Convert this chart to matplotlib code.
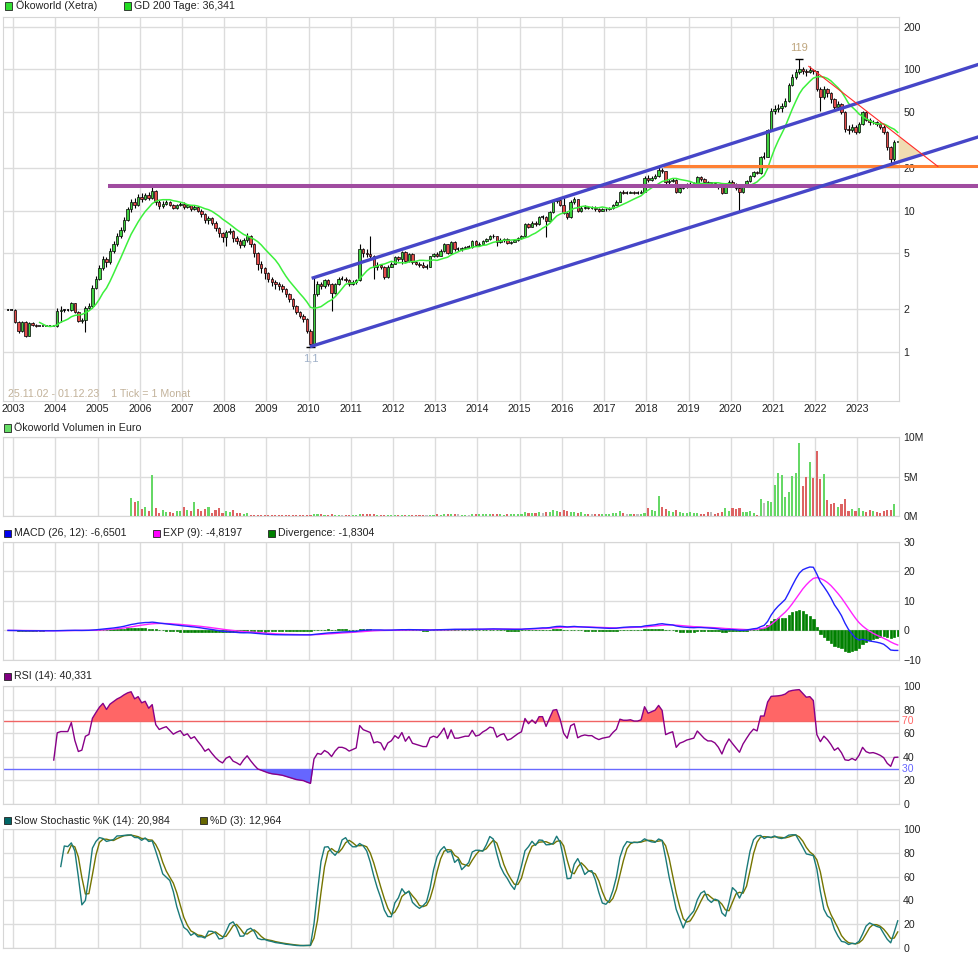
import numpy as np
import pandas as pd
import matplotlib.pyplot as plt
from matplotlib.patches import Rectangle, Polygon
from matplotlib.ticker import NullLocator

plt.rcParams['font.family'] = ['Liberation Sans', 'DejaVu Sans']

# Monatskerzen Ökoworld (Xetra), Nov 2002 .. Dez 2023
first_month = "2002-11"
first_open = 1.98
closes = [
    1.98, 1.98,                                                              # 2002
    1.63, 1.40, 1.63, 1.30, 1.60, 1.55, 1.52, 1.52, 1.52, 1.52, 1.52, 1.52,  # 2003
    1.95, 1.98, 1.98, 1.98, 2.20, 1.91, 1.65, 1.68, 2.04, 2.10, 2.85, 3.30,  # 2004
    3.90, 4.50, 4.30, 5.20, 5.80, 6.60, 7.30, 8.60, 10.2, 11.5, 11.0, 12.5,  # 2005
    12.0, 12.8, 12.2, 13.8, 11.5, 10.8, 11.2, 11.5, 11.0, 10.5, 10.9, 11.2,  # 2006
    10.6, 10.9, 10.3, 10.6, 10.0, 9.40, 8.60, 8.90, 8.20, 7.50, 6.90, 6.50,  # 2007
    7.00, 7.20, 6.40, 6.10, 5.70, 6.20, 6.60, 5.80, 5.00, 4.20, 3.90, 3.60,  # 2008
    3.30, 3.10, 3.00, 2.90, 2.78, 2.56, 2.36, 2.10, 1.91, 1.80, 1.70, 1.40,  # 2009
    1.14, 2.56, 3.00, 2.90, 3.20, 3.00, 2.60, 3.00, 3.30, 3.30, 3.20, 3.00,  # 2010
    3.10, 3.20, 5.30, 5.00, 4.90, 4.80, 4.00, 4.10, 4.00, 3.40, 4.00, 4.20,  # 2011
    4.70, 4.50, 5.10, 4.40, 4.90, 4.30, 4.20, 4.10, 4.00, 4.00, 4.75, 4.90,  # 2012
    4.80, 5.20, 5.75, 5.00, 6.00, 5.30, 5.30, 5.40, 5.50, 5.50, 6.10, 5.70,  # 2013
    5.80, 6.10, 6.30, 6.60, 6.55, 6.00, 6.20, 6.30, 5.90, 6.00, 6.20, 6.40,  # 2014
    6.55, 8.00, 7.70, 8.20, 8.00, 9.00, 9.00, 8.40, 9.70, 11.6, 11.8, 11.0,  # 2015
    9.60, 9.00, 11.5, 12.0, 10.0, 10.4, 10.6, 10.5, 10.5, 10.2, 10.0, 10.2,  # 2016
    10.3, 10.4, 11.0, 11.5, 13.5, 13.4, 13.4, 13.5, 13.4, 13.4, 13.6, 17.1,  # 2017
    16.5, 17.0, 17.5, 19.5, 19.0, 15.8, 16.2, 16.5, 13.6, 14.5, 14.8, 15.2,  # 2018
    15.4, 15.6, 17.2, 16.6, 16.0, 15.6, 15.6, 15.3, 14.6, 13.4, 14.8, 16.0,  # 2019
    15.2, 14.4, 13.5, 15.0, 16.2, 17.5, 18.6, 18.3, 24.0, 24.0, 37.0, 51.0,  # 2020
    52.0, 53.0, 55.0, 60.0, 78.0, 88.0, 95.0, 100., 98.0, 96.0, 99.0, 97.0,  # 2021
    72.0, 64.0, 72.0, 68.0, 62.0, 54.0, 57.0, 50.0, 38.0, 37.0, 39.0, 36.0,  # 2022
    41.0, 50.0, 44.0, 42.0, 42.5, 41.0, 39.0, 36.0, 28.0, 23.0, 30.7, 30.9,  # 2023
]
highs = [
    2.00, 2.00,                                                              # 2002
    2.00, 1.66, 1.66, 1.65, 1.62, 1.62, 1.56, 1.53, 1.53, 1.53, 1.53, 1.53,  # 2003
    2.05, 2.10, 2.02, 2.02, 2.25, 2.22, 1.95, 1.72, 2.10, 2.20, 2.95, 3.45,  # 2004
    4.10, 4.80, 4.70, 5.40, 6.10, 6.90, 7.60, 9.00, 10.6, 12.0, 12.2, 13.0,  # 2005
    13.2, 13.4, 13.5, 14.9, 14.0, 11.8, 11.6, 11.9, 11.7, 11.2, 11.2, 11.5,  # 2006
    11.4, 11.2, 11.0, 10.9, 10.8, 10.2, 9.60, 9.20, 9.00, 8.40, 7.70, 7.10,  # 2007
    7.30, 7.50, 7.30, 6.60, 6.30, 6.40, 6.90, 6.70, 5.90, 5.10, 4.40, 4.00,  # 2008
    3.70, 3.40, 3.20, 3.10, 3.00, 2.85, 2.60, 2.40, 2.15, 1.95, 1.85, 1.72,  # 2009
    1.45, 3.37, 3.15, 3.10, 3.30, 3.25, 3.05, 3.05, 3.40, 3.45, 3.40, 3.25,  # 2010
    3.20, 3.30, 5.80, 5.40, 5.30, 6.60, 4.85, 4.30, 4.20, 4.05, 4.10, 4.30,  # 2011
    4.80, 4.80, 5.20, 5.20, 5.00, 5.00, 4.40, 4.30, 4.30, 4.15, 4.80, 5.00,  # 2012
    5.10, 5.30, 5.90, 5.80, 6.10, 6.10, 5.50, 5.50, 5.60, 5.70, 6.20, 6.20,  # 2013
    6.00, 6.20, 6.40, 6.70, 6.80, 6.60, 6.35, 6.40, 6.35, 6.10, 6.30, 6.50,  # 2014
    6.70, 8.10, 8.20, 8.40, 8.40, 9.20, 9.30, 9.10, 9.90, 11.9, 12.3, 12.0,  # 2015
    12.7, 9.90, 11.8, 12.4, 12.1, 10.8, 10.9, 10.8, 10.8, 10.7, 10.4, 10.4,  # 2016
    10.5, 10.6, 11.2, 11.8, 13.8, 13.9, 13.8, 13.8, 13.7, 13.7, 13.9, 17.5,  # 2017
    17.8, 17.6, 18.0, 20.3, 20.0, 19.2, 16.8, 17.0, 16.7, 14.9, 15.2, 15.6,  # 2018
    15.8, 16.0, 17.6, 17.5, 16.9, 16.3, 16.0, 15.8, 15.5, 14.8, 15.1, 16.4,  # 2019
    16.4, 15.6, 14.6, 15.3, 16.5, 17.9, 19.0, 19.0, 24.5, 26.0, 38.0, 53.0,  # 2020
    56.0, 57.0, 58.0, 63.0, 80.0, 92.0, 100., 119., 104., 100., 105., 101.,  # 2021
    98.0, 75.0, 76.0, 74.0, 69.0, 63.0, 60.0, 58.0, 51.0, 40.0, 41.0, 40.0,  # 2022
    42.0, 51.0, 51.0, 45.0, 44.0, 43.0, 42.0, 40.0, 36.5, 28.5, 31.5, 31.2,  # 2023
]
lows = [
    1.96, 1.97,                                                              # 2002
    1.60, 1.36, 1.38, 1.28, 1.29, 1.52, 1.50, 1.51, 1.51, 1.51, 1.51, 1.51,  # 2003
    1.50, 1.63, 1.90, 1.95, 1.95, 1.88, 1.62, 1.60, 1.38, 2.00, 2.05, 2.80,  # 2004
    3.20, 3.80, 4.00, 4.20, 5.00, 5.60, 6.40, 7.10, 8.40, 9.80, 10.5, 10.8,  # 2005
    11.5, 11.8, 11.8, 12.0, 11.0, 10.2, 10.5, 11.0, 10.7, 10.2, 10.3, 10.7,  # 2006
    10.3, 10.4, 9.90, 10.1, 9.70, 9.00, 8.20, 8.00, 7.90, 7.20, 6.50, 6.00,  # 2007
    5.60, 6.80, 6.00, 5.80, 5.40, 5.50, 6.00, 5.50, 4.70, 3.80, 3.60, 3.30,  # 2008
    3.10, 2.90, 2.80, 2.75, 2.65, 2.45, 2.25, 2.00, 1.85, 1.72, 1.62, 1.35,  # 2009
    1.08, 1.12, 2.50, 2.80, 2.85, 2.90, 1.95, 2.55, 2.95, 3.20, 3.10, 2.90,  # 2010
    2.95, 3.00, 3.15, 4.70, 4.70, 4.60, 3.30, 3.80, 3.85, 3.30, 3.35, 3.95,  # 2011
    4.15, 4.40, 4.20, 4.30, 4.30, 4.20, 4.10, 3.95, 3.90, 3.85, 3.95, 4.70,  # 2012
    4.70, 4.75, 5.10, 4.90, 4.95, 5.20, 5.20, 5.20, 5.30, 5.40, 5.45, 5.60,  # 2013
    5.60, 5.75, 6.00, 6.20, 6.40, 5.60, 5.90, 6.00, 5.80, 5.80, 5.95, 6.10,  # 2014
    6.30, 6.50, 7.50, 7.60, 7.80, 7.90, 8.70, 6.50, 8.30, 9.60, 11.3, 10.7,  # 2015
    9.40, 8.70, 8.90, 11.2, 9.70, 9.80, 10.2, 10.3, 10.2, 10.0, 9.70, 9.90,  # 2016
    10.0, 10.1, 10.3, 10.9, 11.4, 13.1, 13.1, 13.2, 13.1, 13.1, 13.2, 13.5,  # 2017
    16.0, 16.2, 16.6, 17.2, 18.5, 15.5, 15.4, 15.9, 13.2, 13.3, 14.2, 14.5,  # 2018
    14.9, 15.1, 15.4, 16.3, 15.7, 15.3, 15.2, 14.9, 14.3, 13.0, 13.3, 14.6,  # 2019
    14.9, 14.0, 9.80, 13.2, 14.8, 16.0, 17.3, 18.0, 18.1, 23.0, 23.8, 36.5,  # 2020
    48.0, 50.0, 50.0, 54.0, 59.0, 76.0, 86.0, 93.0, 93.0, 90.0, 94.0, 92.0,  # 2021
    70.0, 51.0, 62.0, 64.0, 58.0, 51.0, 52.0, 48.0, 36.0, 35.0, 36.0, 35.0,  # 2022
    35.5, 40.0, 43.0, 40.5, 41.0, 39.5, 38.0, 35.0, 27.0, 21.5, 22.5, 30.5,  # 2023
]

# Volumen in Mio. Euro
volume_mio = [
    0, 0,                                                                    # 2002
    0, 0, 0, 0, 0, 0, 0, 0, 0, 0, 0, 0,                                      # 2003
    0, 0, 0, 0, 0, 0, 0, 0, 0, 0, 0, 0,                                      # 2004
    0, 0, 0, 0, 0, 0, 0, 0, 0.05, 2.3, 1.8, 1.9,                             # 2005
    0.9, 1.1, 0.6, 5.2, 1.0, 0.4, 0.8, 0.5, 0.5, 0.4, 0.6, 0.6,              # 2006
    1.1, 0.8, 0.6, 1.8, 0.9, 0.6, 0.9, 1.2, 0.4, 0.8, 1.0, 0.4,              # 2007
    0.6, 0.5, 0.8, 0.4, 0.4, 0.3, 0.4, 0.12, 0.1, 0.1, 0.1, 0.1,             # 2008
    0.1, 0.1, 0.1, 0.1, 0.1, 0.1, 0.1, 0.1, 0.1, 0.1, 0.1, 0.1,              # 2009
    0.1, 0.3, 0.2, 0.2, 0.15, 0.15, 0.2, 0.15, 0.15, 0.1, 0.1, 0.1,          # 2010
    0.1, 0.15, 0.3, 0.3, 0.2, 0.3, 0.2, 0.15, 0.15, 0.15, 0.1, 0.1,          # 2011
    0.15, 0.1, 0.15, 0.15, 0.1, 0.1, 0.1, 0.1, 0.1, 0.1, 0.15, 0.15,         # 2012
    0.2, 0.15, 0.2, 0.25, 0.2, 0.3, 0.2, 0.15, 0.15, 0.15, 0.25, 0.2,        # 2013
    0.2, 0.2, 0.2, 0.25, 0.25, 0.2, 0.25, 0.15, 0.2, 0.2, 0.2, 0.2,          # 2014
    0.25, 0.5, 0.4, 0.4, 0.35, 0.5, 0.4, 0.5, 0.5, 0.8, 0.6, 0.5,            # 2015
    0.8, 0.6, 0.5, 0.5, 0.4, 0.5, 0.3, 0.3, 0.3, 0.3, 0.3, 0.3,              # 2016
    0.3, 0.3, 0.4, 0.4, 0.6, 0.4, 0.3, 0.3, 0.3, 0.3, 0.3, 0.4,              # 2017
    1.0, 0.8, 0.6, 2.6, 1.2, 0.9, 0.6, 0.5, 0.8, 0.5, 0.4, 0.4,              # 2018
    0.5, 0.4, 0.4, 0.3, 0.3, 0.5, 0.5, 0.25, 0.4, 0.5, 1.0, 0.6,             # 2019
    1.0, 0.9, 1.0, 0.5, 0.5, 0.6, 0.4, 0.13, 2.15, 1.65, 1.9, 1.8,           # 2020
    3.9, 5.45, 5.2, 2.4, 3.0, 5.05, 5.45, 9.25, 3.8, 4.95, 6.85, 4.8,        # 2021
    8.2, 4.7, 5.3, 2.0, 1.5, 1.65, 1.15, 1.5, 2.15, 0.6, 0.9, 0.6,           # 2022
    1.0, 0.6, 0.5, 0.75, 0.6, 0.5, 0.4, 0.6, 0.75, 0.75, 1.5, 0.05,          # 2023
]

# eingezeichnete Linien (Jahr, Kurs)
channel_top = [(2010.07, 3.31), (2025.88, 108.5)]
channel_bottom = [(2010.03, 1.085), (2025.88, 33.3)]
support_purple = [(2005.24, 14.9), (2025.88, 14.9)]
support_orange = [(2018.40, 20.5), (2025.88, 20.5)]
downtrend_red = [(2021.84, 105.5), (2024.92, 20.4)]

years = list(range(2003, 2024))

# ---- Daten aufbereiten
months = pd.period_range(first_month, periods=len(closes), freq="M")
t = np.array([m.year + (m.month - 0.5) / 12 for m in months])
c = np.array(closes)
o = np.array([first_open] + closes[:-1])
hi = np.array(highs)
lo = np.array(lows)
vol = np.array(volume_mio)

s = pd.Series(c)
gd200 = s.rolling(10).mean()
macd = s.ewm(span=12, adjust=False).mean() - s.ewm(span=26, adjust=False).mean()
signal = macd.ewm(span=9, adjust=False).mean()
diverg = macd - signal
delta = s.diff()
gain = delta.clip(lower=0).ewm(alpha=1 / 14, adjust=False, min_periods=13).mean()
loss = (-delta.clip(upper=0)).ewm(alpha=1 / 14, adjust=False, min_periods=13).mean()
rsi = 100 - 100 / (1 + gain / loss)
hh = pd.Series(hi).rolling(14).max()
ll = pd.Series(lo).rolling(14).min()
fast_k = 100 * (s - ll) / (hh - ll)
slow_k = fast_k.rolling(3).mean()
slow_d = slow_k.rolling(3).mean()

# ---- Layout
W, H = 979, 958
X0, X1 = 2002.756, 2023.981
fig = plt.figure(figsize=(W / 100, H / 100), dpi=100)


def panel(top, bottom):
    a = fig.add_axes([3 / W, 1 - bottom / H, (898.7 - 3) / W, (bottom - top) / H])
    a.set_xlim(X0, X1)
    a.set_xticks(years)
    a.grid(True, color='#dcdcdc', lw=1)
    a.set_axisbelow(True)
    for sp in a.spines.values():
        sp.set_color('#d6d6d6')
    a.yaxis.tick_right()
    a.tick_params(length=0, labelsize=7.6, labelcolor='#222222', pad=3.2)
    a.tick_params(axis='x', labelbottom=False)
    return a


def legend_item(x, y, color, label):
    fig.patches.append(Rectangle((x / W, 1 - (y + 3.5) / H), 7 / W, 7 / H,
                                 transform=fig.transFigure, facecolor=color,
                                 edgecolor='#222222', lw=0.6))
    fig.text((x + 10.5) / W, 1 - y / H, label, fontsize=7.7, color='#222222',
             va='center', ha='left')


ax = panel(16.7, 401)
axv = panel(437.3, 516)
axm = panel(541.7, 660)
axr = panel(686, 804)
axs = panel(829.3, 947.7)

# ---- Kurs
ax.set_yscale('log')
ax.set_ylim(0.448, 235.7)
ticks = [1, 2, 5, 10, 20, 50, 100, 200]
ax.set_yticks(ticks)
ax.set_yticklabels([str(v) for v in ticks])
ax.yaxis.set_minor_locator(NullLocator())
ax.tick_params(axis='x', labelbottom=True, pad=2.5, labelsize=7.7)
ax.set_xticklabels([str(y) for y in years])

bw = 0.058
up = c > o
dn = c < o
fl = c == o
ax.vlines(t, lo, hi, color='black', lw=0.8, zorder=3)
ax.bar(t[up], (c - o)[up], bottom=o[up], width=bw, color='#3fd03f',
       edgecolor='black', lw=0.5, zorder=4)
ax.bar(t[dn], (o - c)[dn], bottom=c[dn], width=bw, color='#e34a4a',
       edgecolor='black', lw=0.5, zorder=4)
ax.hlines(c[fl], t[fl] - bw / 2, t[fl] + bw / 2, color='black', lw=1.1, zorder=4)
ax.plot(t, gd200, color='#3cf03c', lw=1.1, zorder=5)

imax, imin = int(np.argmax(hi)), int(np.argmin(lo))
ax.hlines([hi[imax], lo[imin]], [t[imax] - 0.1, t[imin] - 0.1],
          [t[imax] + 0.1, t[imin] + 0.1], color='black', lw=1, zorder=5)
ax.annotate(f"{hi[imax]:.0f}", (t[imax], hi[imax]), xytext=(0, 8),
            textcoords='offset points', ha='center', va='center',
            fontsize=8, color='#bfa67e')
ax.annotate(f"{lo[imin]:.1f}".replace('.', ','), (t[imin], lo[imin]),
            xytext=(0, -8), textcoords='offset points', ha='center',
            va='center', fontsize=8, color='#9fb0c8')
ax.text(0.0056, 0.018, "25.11.02 - 01.12.23    1 Tick = 1 Monat",
        transform=ax.transAxes, fontsize=7.7, color='#c2b29a', va='center')


def draw_line(pts, color, lw, z=6):
    (t0, p0), (t1, p1) = pts
    ax.plot([t0, t1], [p0, p1], color=color, lw=lw, clip_on=False,
            solid_capstyle='butt', zorder=z)


# Dreieck zwischen Abwärtstrend und unterer Kanallinie
def logline(pts, tt):
    (t0, p0), (t1, p1) = pts
    return np.log10(p0) + (np.log10(p1) - np.log10(p0)) * (tt - t0) / (t1 - t0)


(ra, rb), (ba, bb) = [(logline(p, 0), logline(p, 1) - logline(p, 0))
                      for p in (downtrend_red, channel_bottom)]
t_cross = (ba - ra) / (rb - bb)
tri = [(X1, 10 ** logline(downtrend_red, X1)),
       (X1, 10 ** logline(channel_bottom, X1)),
       (t_cross, 10 ** logline(channel_bottom, t_cross))]
ax.add_patch(Polygon(tri, closed=True, facecolor='#f0dcb2', edgecolor='none',
                     clip_on=False, zorder=5))

draw_line(support_purple, '#a04ca0', 2.9)
draw_line(support_orange, '#ff8033', 2.2)
draw_line(channel_top, '#4646c8', 2.4)
draw_line(channel_bottom, '#4646c8', 2.4)
draw_line(downtrend_red, '#ff2a2a', 0.8, z=7)

# ---- Volumen
vcol = np.where(up, '#66d866', np.where(dn, '#dd6363', '#bdbdbd'))
axv.bar(t, vol, width=0.05, color=vcol, zorder=3)
axv.set_ylim(0, 10)
axv.set_yticks([0, 5, 10])
axv.set_yticklabels(['0M', '5M', '10M'])

# ---- MACD
axm.bar(t, diverg, width=0.055, color='#008000', edgecolor='#008000', lw=0.5,
        zorder=3)
axm.plot(t, signal, color='#ff22ff', lw=1, zorder=4)
axm.plot(t, macd, color='#2222ff', lw=1, zorder=5)
axm.set_ylim(-10, 30)
axm.set_yticks([-10, 0, 10, 20, 30])

# ---- RSI
axr.set_ylim(0, 100)
axr.set_yticks([0, 20, 40, 60, 80, 100])
axr.axhline(70, color='#f06464', lw=1, zorder=2)
axr.axhline(30, color='#6a6aff', lw=1, zorder=2)
axr.fill_between(t, rsi, 70, where=rsi > 70, interpolate=True,
                 color='#ff6666', lw=0, zorder=3)
axr.fill_between(t, rsi, 30, where=rsi < 30, interpolate=True,
                 color='#6666ff', lw=0, zorder=3)
axr.plot(t, rsi, color='#880088', lw=1, zorder=4)
axr.text(1.0, 70, " 70", transform=axr.get_yaxis_transform(), color='#ff6666',
         fontsize=7.6, va='center', ha='left')
axr.text(1.0, 30, " 30", transform=axr.get_yaxis_transform(), color='#6666ff',
         fontsize=7.6, va='center', ha='left')

# ---- Slow Stochastic
axs.set_ylim(0, 100)
axs.set_yticks([0, 20, 40, 60, 80, 100])
axs.plot(t, slow_d, color='#757500', lw=1, zorder=3)
axs.plot(t, slow_k, color='#1a7a7a', lw=1, zorder=4)

# ---- Legenden
legend_item(5, 6, '#33dd33', "Ökoworld (Xetra)")
legend_item(124, 6, '#22dd22', "GD 200 Tage: 36,341")
legend_item(4, 428, '#66dd66', "Ökoworld Volumen in Euro")
legend_item(4, 533, '#0000ee', "MACD (26, 12): -6,6501")
legend_item(153, 533, '#ff00ff', "EXP (9): -4,8197")
legend_item(268, 533, '#008000', "Divergence: -1,8304")
legend_item(4, 676, '#800080', "RSI (14): 40,331")
legend_item(4, 820.5, '#006666', "Slow Stochastic %K (14): 20,984")
legend_item(200, 820.5, '#666600', "%D (3): 12,964")

fig.savefig("out.png", dpi=100)
